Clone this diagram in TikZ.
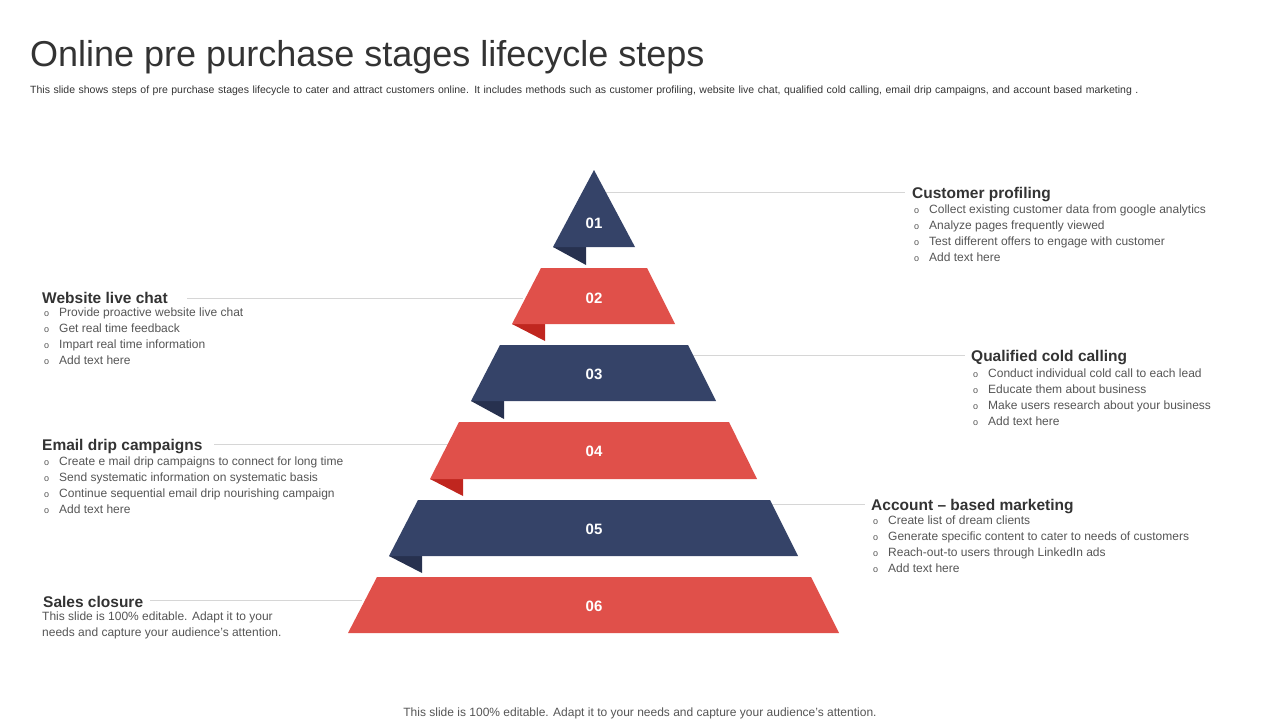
\documentclass[tikz,border=0pt]{standalone}
\usepackage{fontspec}
\setmainfont{Liberation Sans}
\begin{document}
\begin{tikzpicture}[x=1pt,y=-1pt,
  nav/.style={fill=navy},red/.style={fill=redc},
  navf/.style={fill=navyd},redf/.style={fill=redd},
  lab/.style={text=white,font=\fontsize{15}{15}\selectfont\bfseries},
  conn/.style={draw=linec,line width=0.7pt},
  head/.style={anchor=base west,font=\fontsize{15.5}{16}\selectfont\bfseries,text=txt,inner sep=0pt},
  blist/.style={anchor=north west,font=\fontsize{12}{16}\selectfont,text=txtl,inner sep=0pt,align=left}]
\definecolor{navy}{HTML}{354368}
\definecolor{navyd}{HTML}{27314F}
\definecolor{redc}{HTML}{E0504A}
\definecolor{redd}{HTML}{C0261F}
\definecolor{linec}{HTML}{D6D6D6}
\definecolor{txt}{HTML}{333333}
\definecolor{txtl}{HTML}{555555}
\useasboundingbox (0,0) rectangle (1280,720);
\newcommand{\bl}{{\fontsize{9}{9}\selectfont o}\hspace{10pt}}
\node[anchor=base west,inner sep=0pt,font=\fontsize{36}{36}\selectfont,text=txt] (title) at (30,66) {Online pre purchase stages lifecycle steps};
\node[anchor=north west,inner sep=0pt,font=\fontsize{10.5}{13.5}\selectfont,text=txt,align=left,text width=1160pt] (desc) at (30,86) {This slide shows steps of pre purchase stages lifecycle to cater and attract customers online. It includes methods such as customer profiling, website live chat, qualified cold calling, email drip campaigns, and account based marketing .};
% connectors
\coordinate (c1a) at (605,192); \coordinate (c1b) at (905,192);
\coordinate (c2a) at (187,298); \coordinate (c2b) at (523,298);
\coordinate (c3a) at (690,355); \coordinate (c3b) at (965,355);
\coordinate (c4a) at (214,444); \coordinate (c4b) at (448,444);
\coordinate (c5a) at (770,504); \coordinate (c5b) at (865,504);
\coordinate (c6a) at (150,600); \coordinate (c6b) at (362,600);
\foreach \a/\b in {c1a/c1b,c2a/c2b,c3a/c3b,c4a/c4b,c5a/c5b,c6a/c6b} \draw[conn] (\a)--(\b);
% folds
\fill[navf] (553,247)--(586,247)--(586,265)--cycle;
\fill[redf] (512,324)--(545,324)--(545,341)--cycle;
\fill[navf] (471,401)--(504,401)--(504,419)--cycle;
\fill[redf] (430,479)--(463,479)--(463,496)--cycle;
\fill[navf] (389,556)--(422,556)--(422,573)--cycle;
% tiers
\fill[nav] (594,170)--(635,247)--(553,247)--cycle;
\fill[red] (541,268)--(647,268)--(675,324)--(512,324)--cycle;
\fill[nav] (500,345)--(688,345)--(716,401)--(471,401)--cycle;
\fill[red] (459,422)--(729,422)--(757,479)--(430,479)--cycle;
\fill[nav] (418,500)--(770,500)--(798,556)--(389,556)--cycle;
\fill[red] (377,577)--(811,577)--(839,633)--(348,633)--cycle;
\node[lab] (n1) at (594,223) {01};
\node[lab] (n2) at (594,298) {02};
\node[lab] (n3) at (594,374) {03};
\node[lab] (n4) at (594,451) {04};
\node[lab] (n5) at (594,529) {05};
\node[lab] (n6) at (594,606) {06};
% texts
\node[head] (h1) at (912,198) {Customer profiling};
\node[blist] (b1) at (914,205) {\bl Collect existing customer data from google analytics\\\bl Analyze pages frequently viewed\\\bl Test different offers to engage with customer\\\bl Add text here};
\node[head] (h2) at (42,303) {Website live chat};
\node[blist] (b2) at (44,308) {\bl Provide proactive website live chat\\\bl Get real time feedback\\\bl Impart real time information\\\bl Add text here};
\node[head] (h3) at (971,361) {Qualified cold calling};
\node[blist] (b3) at (973,369) {\bl Conduct individual cold call to each lead\\\bl Educate them about business\\\bl Make users research about your business\\\bl Add text here};
\node[head] (h4) at (42,450) {Email drip campaigns};
\node[blist] (b4) at (44,457) {\bl Create e mail drip campaigns to connect for long time\\\bl Send systematic information on systematic basis\\\bl Continue sequential email drip nourishing campaign\\\bl Add text here};
\node[head] (h5) at (871,510) {Account -- based marketing};
\node[blist] (b5) at (873,516) {\bl Create list of dream clients\\\bl Generate specific content to cater to needs of customers\\\bl Reach-out-to users through LinkedIn ads\\\bl Add text here};
\node[head] (h6) at (43,607) {Sales closure};
\node[blist] (b6) at (42,612) {This slide is 100\% editable. Adapt it to your\\ needs and capture your audience's attention.};
\node[anchor=base,inner sep=0pt,font=\fontsize{12}{12}\selectfont,text=txtl] (foot) at (640,716) {This slide is 100\% editable. Adapt it to your needs and capture your audience's attention.};
\end{tikzpicture}
\end{document}
